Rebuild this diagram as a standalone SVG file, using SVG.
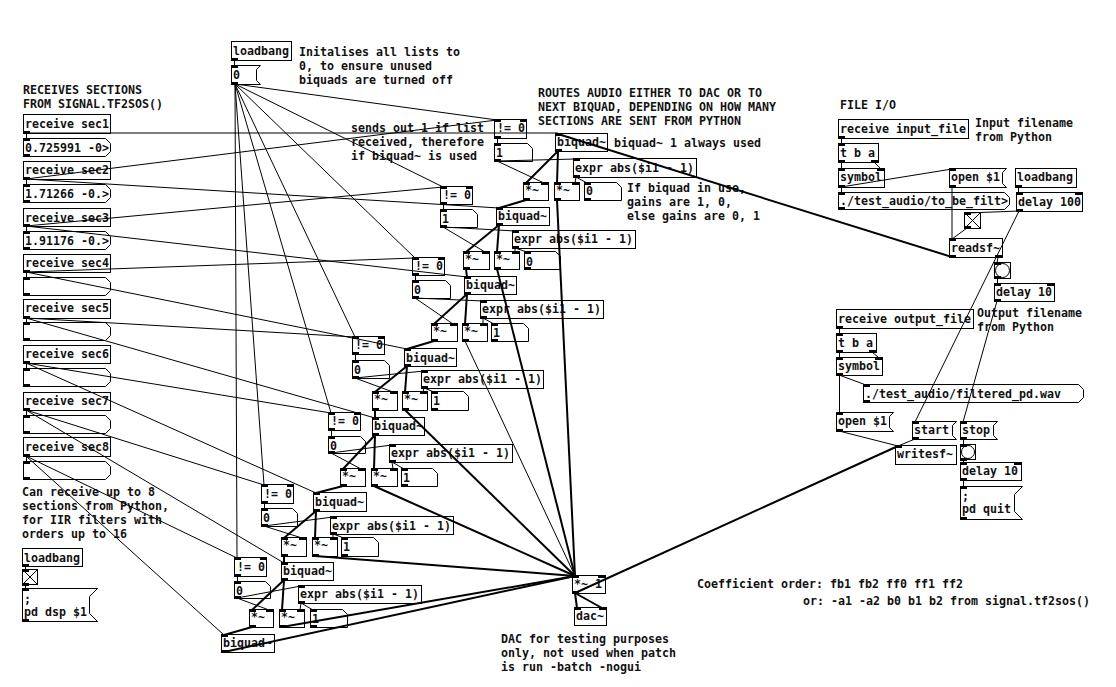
<svg xmlns="http://www.w3.org/2000/svg" width="1116" height="687" viewBox="0 0 1116 687">
<style>
text{font-family:"DejaVu Sans Mono","Liberation Mono",monospace;font-size:11.63px;font-weight:700;fill:#111;white-space:pre}
rect.b,polygon{fill:#fff;stroke:#000;stroke-width:1}
#wires line{stroke:#000;stroke-width:1}
#wires line.s{stroke-width:2}
</style>
<defs><rect id="p" width="7" height="3" fill="#000"/></defs>
<rect width="1116" height="687" fill="#fff"/>
<g id="comments">
<text x="299" y="56">Initalises all lists to</text><text x="299" y="70">0, to ensure unused</text><text x="299" y="84">biquads are turned off</text>
<text x="23" y="94">RECEIVES SECTIONS</text><text x="23" y="108">FROM SIGNAL.TF2SOS()</text>
<text x="538" y="97">ROUTES AUDIO EITHER TO DAC OR TO</text><text x="538" y="111">NEXT BIQUAD, DEPENDING ON HOW MANY</text><text x="538" y="125">SECTIONS ARE SENT FROM PYTHON</text>
<text x="351" y="132">sends out 1 if list</text><text x="351" y="146">received, therefore</text><text x="351" y="160">if biquad~ is used</text>
<text x="614" y="147">biquad~ 1 always used</text>
<text x="627" y="192">If biquad in use,</text><text x="627" y="206">gains are 1, 0,</text><text x="627" y="220">else gains are 0, 1</text>
<text x="840" y="109">FILE I/O</text>
<text x="975" y="127">Input filename</text><text x="975" y="141">from Python</text>
<text x="977" y="317">Output filename</text><text x="977" y="331">from Python</text>
<text x="22" y="496">Can receive up to 8</text><text x="22" y="510">sections from Python,</text><text x="22" y="524">for IIR filters with</text><text x="22" y="538">orders up to 16</text>
<text x="501" y="643">DAC for testing purposes</text><text x="501" y="657">only, not used when patch</text><text x="501" y="671">is run -batch -nogui</text>
<text x="697" y="588">Coefficient order: fb1 fb2 ff0 ff1 ff2</text>
<text x="803" y="605">or: -a1 -a2 b0 b1 b2 from signal.tf2sos()</text>
</g>
<g id="lb1"><rect class="b" x="231.5" y="41.5" width="60" height="19"/><text x="233" y="55">loadbang</text><use href="#p" x="231" y="58"/></g>
<g id="m0"><polygon points="231.5,65.5 260.5,65.5 256.5,69.5 256.5,80.5 260.5,84.5 231.5,84.5"/><text x="233" y="79">0</text><use href="#p" x="231" y="65"/><use href="#p" x="231" y="82"/></g>

<g id="rs1"><rect class="b" x="23.5" y="114.5" width="87" height="19"/><text x="25" y="128">receive sec1</text><use href="#p" x="23" y="131"/></g>
<g id="sy1"><polygon points="23.5,138.5 105.5,138.5 110.5,143.5 110.5,151.5 105.5,156.5 23.5,156.5"/><text x="25" y="152">0.725991 -0&gt;</text><use href="#p" x="23" y="138"/><use href="#p" x="23" y="154"/></g>
<g id="rs2"><rect class="b" x="23.5" y="161.5" width="87" height="18"/><text x="25" y="174">receive sec2</text><use href="#p" x="23" y="177"/></g>
<g id="sy2"><polygon points="23.5,184.5 105.5,184.5 110.5,189.5 110.5,197.5 105.5,202.5 23.5,202.5"/><text x="25" y="198">1.71266 -0.&gt;</text><use href="#p" x="23" y="184"/><use href="#p" x="23" y="200"/></g>
<g id="rs3"><rect class="b" x="23.5" y="208.5" width="87" height="18"/><text x="25" y="222">receive sec3</text><use href="#p" x="23" y="224"/></g>
<g id="sy3"><polygon points="23.5,231.5 105.5,231.5 110.5,236.5 110.5,244.5 105.5,249.5 23.5,249.5"/><text x="25" y="245">1.91176 -0.&gt;</text><use href="#p" x="23" y="231"/><use href="#p" x="23" y="247"/></g>
<g id="rs4"><rect class="b" x="23.5" y="254.5" width="87" height="18"/><text x="25" y="267">receive sec4</text><use href="#p" x="23" y="270"/></g>
<g id="sy4"><polygon points="23.5,277.5 105.5,277.5 110.5,282.5 110.5,290.5 105.5,295.5 23.5,295.5"/><use href="#p" x="23" y="277"/><use href="#p" x="23" y="293"/></g>
<g id="rs5"><rect class="b" x="23.5" y="299.5" width="87" height="19"/><text x="25" y="312">receive sec5</text><use href="#p" x="23" y="316"/></g>
<g id="sy5"><polygon points="23.5,322.5 105.5,322.5 110.5,327.5 110.5,335.5 105.5,340.5 23.5,340.5"/><use href="#p" x="23" y="322"/><use href="#p" x="23" y="338"/></g>
<g id="rs6"><rect class="b" x="23.5" y="345.5" width="87" height="18"/><text x="25" y="358">receive sec6</text><use href="#p" x="23" y="361"/></g>
<g id="sy6"><polygon points="23.5,368.5 105.5,368.5 110.5,373.5 110.5,381.5 105.5,386.5 23.5,386.5"/><use href="#p" x="23" y="368"/><use href="#p" x="23" y="384"/></g>
<g id="rs7"><rect class="b" x="23.5" y="392.5" width="87" height="18"/><text x="25" y="405">receive sec7</text><use href="#p" x="23" y="408"/></g>
<g id="sy7"><polygon points="23.5,415.5 105.5,415.5 110.5,420.5 110.5,428.5 105.5,433.5 23.5,433.5"/><use href="#p" x="23" y="415"/><use href="#p" x="23" y="431"/></g>
<g id="rs8"><rect class="b" x="23.5" y="437.5" width="87" height="19"/><text x="25" y="451">receive sec8</text><use href="#p" x="23" y="454"/></g>
<g id="sy8"><polygon points="23.5,461.5 105.5,461.5 110.5,466.5 110.5,474.5 105.5,479.5 23.5,479.5"/><use href="#p" x="23" y="461"/><use href="#p" x="23" y="477"/></g>

<g id="lb2"><rect class="b" x="22.5" y="548.5" width="60" height="18"/><text x="24" y="562">loadbang</text><use href="#p" x="22" y="564"/></g>
<g id="tg1"><rect class="b" x="22.5" y="569.5" width="15" height="15"/><path d="M23 570L37 584M37 570L23 584" stroke="#000" fill="none"/><use href="#p" x="22" y="569"/><use href="#p" x="22" y="583"/></g>
<g id="dsp"><polygon points="22.5,588.5 97.5,588.5 89.5,596.5 89.5,613.5 97.5,621.5 22.5,621.5"/><text x="24" y="603">;</text><text x="24" y="616">pd dsp $1</text><use href="#p" x="22" y="588"/><use href="#p" x="22" y="619"/></g>

<g id="ne1"><rect class="b" x="494.5" y="119.5" width="32" height="19"/><text x="497" y="132">!= 0</text><use href="#p" x="494" y="119"/><use href="#p" x="520" y="119"/><use href="#p" x="494" y="136"/></g>
<g id="n1"><polygon points="494.5,143.5 527.5,143.5 532.5,148.5 532.5,161.5 494.5,161.5"/><text x="496" y="157">1</text><use href="#p" x="494" y="143"/><use href="#p" x="494" y="159"/></g>
<g id="bq1"><rect class="b" x="555.5" y="133.5" width="52" height="18"/><text x="557" y="146">biquad~</text><use href="#p" x="555" y="133"/><use href="#p" x="555" y="149"/></g>
<g id="ex1"><rect class="b" x="573.5" y="158.5" width="123" height="19"/><text x="575" y="172">expr abs($i1 - 1)</text><use href="#p" x="573" y="158"/><use href="#p" x="573" y="175"/></g>
<g id="ma1"><rect class="b" x="523.5" y="182.5" width="25" height="18"/><text x="525" y="194">*~</text><use href="#p" x="523" y="182"/><use href="#p" x="541" y="182"/><use href="#p" x="523" y="198"/></g>
<g id="mb1"><rect class="b" x="554.5" y="182.5" width="25" height="18"/><text x="556" y="194">*~</text><use href="#p" x="554" y="182"/><use href="#p" x="572" y="182"/><use href="#p" x="554" y="198"/></g>
<g id="g1"><polygon points="584.5,182.5 616.5,182.5 621.5,187.5 621.5,200.5 584.5,200.5"/><text x="586" y="195">0</text><use href="#p" x="584" y="182"/><use href="#p" x="584" y="198"/></g>

<g id="ne2"><rect class="b" x="440.5" y="186.5" width="32" height="18"/><text x="443" y="199">!= 0</text><use href="#p" x="440" y="186"/><use href="#p" x="466" y="186"/><use href="#p" x="440" y="202"/></g>
<g id="n2"><polygon points="440.5,209.5 472.5,209.5 477.5,214.5 477.5,227.5 440.5,227.5"/><text x="442" y="223">1</text><use href="#p" x="440" y="209"/><use href="#p" x="440" y="225"/></g>
<g id="bq2"><rect class="b" x="496.5" y="207.5" width="53" height="18"/><text x="498" y="220">biquad~</text><use href="#p" x="496" y="207"/><use href="#p" x="496" y="223"/></g>
<g id="ex2"><rect class="b" x="512.5" y="230.5" width="123" height="18"/><text x="514" y="243">expr abs($i1 - 1)</text><use href="#p" x="512" y="230"/><use href="#p" x="512" y="246"/></g>
<g id="ma2"><rect class="b" x="463.5" y="251.5" width="26" height="18"/><text x="465" y="263">*~</text><use href="#p" x="463" y="251"/><use href="#p" x="482" y="251"/><use href="#p" x="463" y="267"/></g>
<g id="mb2"><rect class="b" x="494.5" y="251.5" width="25" height="18"/><text x="496" y="263">*~</text><use href="#p" x="494" y="251"/><use href="#p" x="512" y="251"/><use href="#p" x="494" y="267"/></g>
<g id="g2"><polygon points="524.5,251.5 555.5,251.5 560.5,256.5 560.5,269.5 524.5,269.5"/><text x="526" y="266">0</text><use href="#p" x="524" y="251"/><use href="#p" x="524" y="267"/></g>

<g id="ne3"><rect class="b" x="412.5" y="257.5" width="32" height="18"/><text x="415" y="270">!= 0</text><use href="#p" x="412" y="257"/><use href="#p" x="438" y="257"/><use href="#p" x="412" y="273"/></g>
<g id="n3"><polygon points="412.5,280.5 445.5,280.5 450.5,285.5 450.5,298.5 412.5,298.5"/><text x="414" y="294">0</text><use href="#p" x="412" y="280"/><use href="#p" x="412" y="296"/></g>
<g id="bq3"><rect class="b" x="464.5" y="276.5" width="52" height="18"/><text x="466" y="289">biquad~</text><use href="#p" x="464" y="276"/><use href="#p" x="464" y="292"/></g>
<g id="ex3"><rect class="b" x="480.5" y="300.5" width="123" height="18"/><text x="482" y="313">expr abs($i1 - 1)</text><use href="#p" x="480" y="300"/><use href="#p" x="480" y="316"/></g>
<g id="ma3"><rect class="b" x="431.5" y="323.5" width="26" height="18"/><text x="433" y="335">*~</text><use href="#p" x="431" y="323"/><use href="#p" x="450" y="323"/><use href="#p" x="431" y="339"/></g>
<g id="mb3"><rect class="b" x="462.5" y="323.5" width="25" height="18"/><text x="464" y="335">*~</text><use href="#p" x="462" y="323"/><use href="#p" x="480" y="323"/><use href="#p" x="462" y="339"/></g>
<g id="g3"><polygon points="491.5,323.5 523.5,323.5 528.5,328.5 528.5,341.5 491.5,341.5"/><text x="493" y="337">1</text><use href="#p" x="491" y="323"/><use href="#p" x="491" y="339"/></g>

<g id="ne4"><rect class="b" x="352.5" y="336.5" width="32" height="18"/><text x="355" y="349">!= 0</text><use href="#p" x="352" y="336"/><use href="#p" x="378" y="336"/><use href="#p" x="352" y="352"/></g>
<g id="n4"><polygon points="352.5,360.5 384.5,360.5 389.5,365.5 389.5,378.5 352.5,378.5"/><text x="354" y="374">0</text><use href="#p" x="352" y="360"/><use href="#p" x="352" y="376"/></g>
<g id="bq4"><rect class="b" x="404.5" y="348.5" width="52" height="18"/><text x="406" y="362">biquad~</text><use href="#p" x="404" y="348"/><use href="#p" x="404" y="364"/></g>
<g id="ex4"><rect class="b" x="421.5" y="370.5" width="122" height="18"/><text x="423" y="383">expr abs($i1 - 1)</text><use href="#p" x="421" y="370"/><use href="#p" x="421" y="386"/></g>
<g id="ma4"><rect class="b" x="372.5" y="391.5" width="25" height="19"/><text x="374" y="403">*~</text><use href="#p" x="372" y="391"/><use href="#p" x="390" y="391"/><use href="#p" x="372" y="408"/></g>
<g id="mb4"><rect class="b" x="402.5" y="391.5" width="25" height="19"/><text x="404" y="403">*~</text><use href="#p" x="402" y="391"/><use href="#p" x="420" y="391"/><use href="#p" x="402" y="408"/></g>
<g id="g4"><polygon points="431.5,391.5 463.5,391.5 468.5,396.5 468.5,410.5 431.5,410.5"/><text x="433" y="405">1</text><use href="#p" x="431" y="391"/><use href="#p" x="431" y="408"/></g>

<g id="ne5"><rect class="b" x="328.5" y="412.5" width="32" height="18"/><text x="331" y="425">!= 0</text><use href="#p" x="328" y="412"/><use href="#p" x="354" y="412"/><use href="#p" x="328" y="428"/></g>
<g id="n5"><polygon points="328.5,436.5 360.5,436.5 365.5,441.5 365.5,453.5 328.5,453.5"/><text x="330" y="450">0</text><use href="#p" x="328" y="436"/><use href="#p" x="328" y="451"/></g>
<g id="bq5"><rect class="b" x="372.5" y="417.5" width="52" height="18"/><text x="374" y="430">biquad~</text><use href="#p" x="372" y="417"/><use href="#p" x="372" y="433"/></g>
<g id="ex5"><rect class="b" x="389.5" y="444.5" width="123" height="18"/><text x="391" y="457">expr abs($i1 - 1)</text><use href="#p" x="389" y="444"/><use href="#p" x="389" y="460"/></g>
<g id="ma5"><rect class="b" x="340.5" y="468.5" width="25" height="18"/><text x="342" y="480">*~</text><use href="#p" x="340" y="468"/><use href="#p" x="358" y="468"/><use href="#p" x="340" y="484"/></g>
<g id="mb5"><rect class="b" x="371.5" y="468.5" width="26" height="18"/><text x="373" y="480">*~</text><use href="#p" x="371" y="468"/><use href="#p" x="390" y="468"/><use href="#p" x="371" y="484"/></g>
<g id="g5"><polygon points="401.5,468.5 432.5,468.5 437.5,473.5 437.5,486.5 401.5,486.5"/><text x="403" y="482">1</text><use href="#p" x="401" y="468"/><use href="#p" x="401" y="484"/></g>

<g id="ne6"><rect class="b" x="261.5" y="484.5" width="32" height="19"/><text x="264" y="498">!= 0</text><use href="#p" x="261" y="484"/><use href="#p" x="287" y="484"/><use href="#p" x="261" y="501"/></g>
<g id="n6"><polygon points="261.5,508.5 292.5,508.5 297.5,513.5 297.5,526.5 261.5,526.5"/><text x="263" y="522">0</text><use href="#p" x="261" y="508"/><use href="#p" x="261" y="524"/></g>
<g id="bq6"><rect class="b" x="313.5" y="492.5" width="53" height="19"/><text x="315" y="506">biquad~</text><use href="#p" x="313" y="492"/><use href="#p" x="313" y="509"/></g>
<g id="ex6"><rect class="b" x="330.5" y="516.5" width="123" height="18"/><text x="332" y="530">expr abs($i1 - 1)</text><use href="#p" x="330" y="516"/><use href="#p" x="330" y="532"/></g>
<g id="ma6"><rect class="b" x="281.5" y="537.5" width="25" height="19"/><text x="283" y="549">*~</text><use href="#p" x="281" y="537"/><use href="#p" x="299" y="537"/><use href="#p" x="281" y="554"/></g>
<g id="mb6"><rect class="b" x="312.5" y="537.5" width="25" height="19"/><text x="314" y="549">*~</text><use href="#p" x="312" y="537"/><use href="#p" x="330" y="537"/><use href="#p" x="312" y="554"/></g>
<g id="g6"><polygon points="341.5,537.5 373.5,537.5 378.5,542.5 378.5,556.5 341.5,556.5"/><text x="343" y="551">1</text><use href="#p" x="341" y="537"/><use href="#p" x="341" y="554"/></g>

<g id="ne7"><rect class="b" x="234.5" y="557.5" width="32" height="19"/><text x="237" y="571">!= 0</text><use href="#p" x="234" y="557"/><use href="#p" x="260" y="557"/><use href="#p" x="234" y="574"/></g>
<g id="n7"><polygon points="234.5,581.5 265.5,581.5 270.5,586.5 270.5,598.5 234.5,598.5"/><text x="236" y="595">0</text><use href="#p" x="234" y="581"/><use href="#p" x="234" y="596"/></g>
<g id="bq7"><rect class="b" x="281.5" y="562.5" width="52" height="18"/><text x="283" y="575">biquad~</text><use href="#p" x="281" y="562"/><use href="#p" x="281" y="578"/></g>
<g id="ex7"><rect class="b" x="298.5" y="585.5" width="123" height="18"/><text x="300" y="598">expr abs($i1 - 1)</text><use href="#p" x="298" y="585"/><use href="#p" x="298" y="601"/></g>
<g id="ma7"><rect class="b" x="249.5" y="609.5" width="24" height="18"/><text x="251" y="621">*~</text><use href="#p" x="249" y="609"/><use href="#p" x="266" y="609"/><use href="#p" x="249" y="625"/></g>
<g id="mb7"><rect class="b" x="279.5" y="609.5" width="25" height="18"/><text x="281" y="621">*~</text><use href="#p" x="279" y="609"/><use href="#p" x="297" y="609"/><use href="#p" x="279" y="625"/></g>
<g id="g7"><polygon points="310.5,609.5 342.5,609.5 347.5,614.5 347.5,627.5 310.5,627.5"/><text x="312" y="623">1</text><use href="#p" x="310" y="609"/><use href="#p" x="310" y="625"/></g>

<g id="bq8"><rect class="b" x="221.5" y="634.5" width="53" height="18"/><text x="223" y="647">biquad~</text><use href="#p" x="221" y="634"/><use href="#p" x="221" y="650"/></g>

<g id="gain"><rect class="b" x="572.5" y="575.5" width="33" height="18"/><text x="574" y="588">*~ 1</text><use href="#p" x="572" y="575"/><use href="#p" x="598" y="575"/><use href="#p" x="572" y="591"/></g>
<g id="dac"><rect class="b" x="574.5" y="607.5" width="32" height="18"/><text x="576" y="620">dac~</text><use href="#p" x="574" y="607"/><use href="#p" x="599" y="607"/></g>

<g id="rif"><rect class="b" x="838.5" y="119.5" width="130" height="19"/><text x="840" y="133">receive input_file</text><use href="#p" x="838" y="136"/></g>
<g id="tba1"><rect class="b" x="838.5" y="143.5" width="40" height="19"/><text x="840" y="157">t b a</text><use href="#p" x="838" y="143"/><use href="#p" x="838" y="160"/><use href="#p" x="871" y="160"/></g>
<g id="sym1"><rect class="b" x="838.5" y="168.5" width="46" height="19"/><text x="840" y="181">symbol</text><use href="#p" x="838" y="168"/><use href="#p" x="877" y="168"/><use href="#p" x="838" y="185"/></g>
<g id="open1"><polygon points="949.5,168.5 1006.5,168.5 1002.5,172.5 1002.5,183.5 1006.5,187.5 949.5,187.5"/><text x="951" y="181">open $1</text><use href="#p" x="949" y="168"/><use href="#p" x="949" y="185"/></g>
<g id="lb3"><rect class="b" x="1015.5" y="168.5" width="61" height="19"/><text x="1017" y="181">loadbang</text><use href="#p" x="1015" y="185"/></g>
<g id="inf"><polygon points="838.5,192.5 1004.5,192.5 1009.5,197.5 1009.5,204.5 1004.5,209.5 838.5,209.5"/><text x="840" y="205">./test_audio/to_be_filt&gt;</text><use href="#p" x="838" y="192"/><use href="#p" x="838" y="207"/></g>
<g id="d100"><rect class="b" x="1016.5" y="192.5" width="66" height="19"/><text x="1018" y="206">delay 100</text><use href="#p" x="1016" y="192"/><use href="#p" x="1075" y="192"/><use href="#p" x="1016" y="209"/></g>
<g id="tg2"><rect class="b" x="964.5" y="212.5" width="16" height="16"/><path d="M965 213L980 228M980 213L965 228" stroke="#000" fill="none"/><use href="#p" x="964" y="212"/><use href="#p" x="964" y="226"/></g>
<g id="rsf"><rect class="b" x="949.5" y="238.5" width="53" height="19"/><text x="951" y="252">readsf~</text><use href="#p" x="949" y="238"/><use href="#p" x="949" y="255"/><use href="#p" x="995" y="255"/></g>
<g id="bg1"><rect class="b" x="994.5" y="262.5" width="16" height="16"/><circle cx="1002.5" cy="270.5" r="7" fill="#fff" stroke="#000"/><use href="#p" x="994" y="262"/><use href="#p" x="994" y="276"/></g>
<g id="d101"><rect class="b" x="994.5" y="283.5" width="60" height="18"/><text x="996" y="296">delay 10</text><use href="#p" x="994" y="283"/><use href="#p" x="1047" y="283"/><use href="#p" x="994" y="299"/></g>

<g id="rof"><rect class="b" x="836.5" y="309.5" width="137" height="19"/><text x="838" y="323">receive output_file</text><use href="#p" x="836" y="326"/></g>
<g id="tba2"><rect class="b" x="836.5" y="333.5" width="40" height="19"/><text x="838" y="347">t b a</text><use href="#p" x="836" y="333"/><use href="#p" x="836" y="350"/><use href="#p" x="869" y="350"/></g>
<g id="sym2"><rect class="b" x="836.5" y="357.5" width="46" height="18"/><text x="838" y="370">symbol</text><use href="#p" x="836" y="357"/><use href="#p" x="875" y="357"/><use href="#p" x="836" y="373"/></g>
<g id="outf"><polygon points="863.5,384.5 1078.5,384.5 1083.5,389.5 1083.5,397.5 1078.5,402.5 863.5,402.5"/><text x="865" y="398">./test_audio/filtered_pd.wav</text><use href="#p" x="863" y="384"/><use href="#p" x="863" y="400"/></g>
<g id="open2"><polygon points="836.5,412.5 893.5,412.5 889.5,416.5 889.5,427.5 893.5,431.5 836.5,431.5"/><text x="838" y="425">open $1</text><use href="#p" x="836" y="412"/><use href="#p" x="836" y="429"/></g>
<g id="start"><polygon points="912.5,421.5 956.5,421.5 952.5,425.5 952.5,435.5 956.5,439.5 912.5,439.5"/><text x="914" y="434">start</text><use href="#p" x="912" y="421"/><use href="#p" x="912" y="437"/></g>
<g id="stop"><polygon points="960.5,421.5 997.5,421.5 993.5,425.5 993.5,435.5 997.5,439.5 960.5,439.5"/><text x="962" y="434">stop</text><use href="#p" x="960" y="421"/><use href="#p" x="960" y="437"/></g>
<g id="bg2"><rect class="b" x="960.5" y="444.5" width="15" height="15"/><circle cx="968" cy="452" r="6.5" fill="#fff" stroke="#000"/><use href="#p" x="960" y="444"/><use href="#p" x="960" y="458"/></g>
<g id="wsf"><rect class="b" x="895.5" y="445.5" width="61" height="19"/><text x="897" y="458">writesf~</text><use href="#p" x="895" y="445"/></g>
<g id="d102"><rect class="b" x="960.5" y="462.5" width="61" height="18"/><text x="962" y="475">delay 10</text><use href="#p" x="960" y="462"/><use href="#p" x="1014" y="462"/><use href="#p" x="960" y="478"/></g>
<g id="quit"><polygon points="960.5,486.5 1022.5,486.5 1014.5,494.5 1014.5,511.5 1022.5,519.5 960.5,519.5"/><text x="962" y="500">;</text><text x="962" y="513">pd quit</text><use href="#p" x="960" y="486"/><use href="#p" x="960" y="517"/></g>

<g id="wires">
<line x1="234.5" y1="60" x2="234.5" y2="65"/>
<line x1="235" y1="84" x2="497" y2="120"/>
<line x1="235" y1="84" x2="443" y2="187"/>
<line x1="235" y1="84" x2="415" y2="258"/>
<line x1="235" y1="84" x2="355" y2="337"/>
<line x1="235" y1="84" x2="331" y2="413"/>
<line x1="235" y1="84" x2="264" y2="485"/>
<line x1="235" y1="84" x2="237" y2="558"/>
<line x1="26.5" y1="133" x2="26.5" y2="138"/>
<line x1="26.5" y1="179" x2="26.5" y2="184"/>
<line x1="26.5" y1="226" x2="26.5" y2="231"/>
<line x1="26.5" y1="272" x2="26.5" y2="277"/>
<line x1="26.5" y1="318" x2="26.5" y2="322"/>
<line x1="26.5" y1="363" x2="26.5" y2="368"/>
<line x1="26.5" y1="410" x2="26.5" y2="415"/>
<line x1="26.5" y1="456" x2="26.5" y2="461"/>
<line x1="26" y1="133" x2="558" y2="133"/>
<line x1="26" y1="179" x2="497" y2="120"/>
<line x1="26" y1="179" x2="499" y2="208"/>
<line x1="26" y1="226" x2="443" y2="187"/>
<line x1="26" y1="226" x2="467" y2="277"/>
<line x1="26" y1="272" x2="415" y2="258"/>
<line x1="26" y1="272" x2="407" y2="349"/>
<line x1="26" y1="318" x2="355" y2="337"/>
<line x1="26" y1="318" x2="375" y2="418"/>
<line x1="26" y1="363" x2="331" y2="413"/>
<line x1="26" y1="363" x2="316" y2="493"/>
<line x1="26" y1="410" x2="264" y2="485"/>
<line x1="26" y1="410" x2="284" y2="563"/>
<line x1="26" y1="456" x2="237" y2="558"/>
<line x1="26" y1="456" x2="224" y2="635"/>
<line x1="25.5" y1="566" x2="25.5" y2="569"/>
<line x1="25.5" y1="585" x2="25.5" y2="588"/>

<line x1="497.5" y1="138" x2="497.5" y2="143"/>
<line x1="497" y1="161" x2="544" y2="183"/>
<line x1="497" y1="161" x2="576" y2="159"/>
<line x1="576" y1="177" x2="575" y2="183"/>
<line x1="576" y1="177" x2="587" y2="183"/>
<line class="s" x1="558" y1="151" x2="526" y2="183"/>
<line class="s" x1="558" y1="151" x2="557" y2="183"/>
<line class="s" x1="526" y1="200" x2="499" y2="208"/>
<line class="s" x1="557" y1="200" x2="575" y2="576"/>

<line x1="443.5" y1="204" x2="443.5" y2="209"/>
<line x1="443" y1="227" x2="485" y2="252"/>
<line x1="443" y1="227" x2="515" y2="231"/>
<line x1="515" y1="248" x2="515" y2="252"/>
<line x1="515" y1="248" x2="527" y2="252"/>
<line class="s" x1="499" y1="225" x2="466" y2="252"/>
<line class="s" x1="499" y1="225" x2="497" y2="252"/>
<line class="s" x1="466" y1="269" x2="467" y2="277"/>
<line class="s" x1="497" y1="269" x2="575" y2="576"/>

<line x1="415.5" y1="275" x2="415.5" y2="280"/>
<line x1="415" y1="298" x2="453" y2="324"/>
<line x1="415" y1="298" x2="483" y2="301"/>
<line x1="483" y1="318" x2="483" y2="324"/>
<line x1="483" y1="318" x2="494" y2="324"/>
<line class="s" x1="467" y1="294" x2="434" y2="324"/>
<line class="s" x1="467" y1="294" x2="465" y2="324"/>
<line class="s" x1="434" y1="341" x2="407" y2="349"/>
<line x1="465" y1="341" x2="575" y2="576"/>

<line x1="355.5" y1="354" x2="355.5" y2="360"/>
<line x1="355" y1="378" x2="393" y2="392"/>
<line x1="355" y1="378" x2="424" y2="371"/>
<line x1="424" y1="388" x2="423" y2="392"/>
<line x1="424" y1="388" x2="434" y2="392"/>
<line class="s" x1="407" y1="366" x2="375" y2="392"/>
<line class="s" x1="407" y1="366" x2="405" y2="392"/>
<line class="s" x1="375" y1="410" x2="375" y2="418"/>
<line class="s" x1="405" y1="410" x2="575" y2="576"/>

<line x1="331.5" y1="430" x2="331.5" y2="436"/>
<line x1="331" y1="453" x2="361" y2="469"/>
<line x1="331" y1="453" x2="392" y2="445"/>
<line x1="392" y1="462" x2="393" y2="469"/>
<line x1="392" y1="462" x2="404" y2="469"/>
<line class="s" x1="375" y1="435" x2="343" y2="469"/>
<line class="s" x1="375" y1="435" x2="374" y2="469"/>
<line class="s" x1="343" y1="486" x2="316" y2="493"/>
<line class="s" x1="374" y1="486" x2="575" y2="576"/>

<line x1="264.5" y1="503" x2="264.5" y2="508"/>
<line x1="264" y1="526" x2="302" y2="538"/>
<line x1="264" y1="526" x2="333" y2="517"/>
<line x1="333" y1="534" x2="333" y2="538"/>
<line x1="333" y1="534" x2="344" y2="538"/>
<line class="s" x1="316" y1="511" x2="284" y2="538"/>
<line class="s" x1="316" y1="511" x2="315" y2="538"/>
<line class="s" x1="284" y1="556" x2="284" y2="563"/>
<line class="s" x1="315" y1="556" x2="575" y2="576"/>

<line x1="237.5" y1="576" x2="237.5" y2="581"/>
<line x1="237" y1="598" x2="269" y2="610"/>
<line x1="237" y1="598" x2="301" y2="586"/>
<line x1="301" y1="603" x2="300" y2="610"/>
<line x1="301" y1="603" x2="313" y2="610"/>
<line class="s" x1="284" y1="580" x2="252" y2="610"/>
<line class="s" x1="284" y1="580" x2="282" y2="610"/>
<line class="s" x1="252" y1="627" x2="224" y2="635"/>
<line class="s" x1="282" y1="627" x2="575" y2="576"/>
<line class="s" x1="224" y1="652" x2="575" y2="576"/>

<line class="s" x1="575" y1="593" x2="577" y2="608"/>
<line class="s" x1="575" y1="593" x2="602" y2="608"/>
<line class="s" x1="575" y1="593" x2="898" y2="446"/>
<line class="s" x1="952" y1="257" x2="558" y2="134"/>

<line x1="841.5" y1="138" x2="841.5" y2="143"/>
<line x1="841.5" y1="162" x2="841.5" y2="168"/>
<line x1="874" y1="162" x2="880" y2="168"/>
<line x1="841.5" y1="187" x2="841.5" y2="192"/>
<line x1="841" y1="187" x2="952" y2="169"/>
<line x1="952" y1="187" x2="952" y2="239"/>
<line x1="1018.5" y1="187" x2="1018.5" y2="192"/>
<line x1="1019" y1="211" x2="967" y2="213"/>
<line x1="1019" y1="211" x2="915" y2="422"/>
<line x1="967" y1="228" x2="952" y2="239"/>
<line x1="998" y1="257" x2="997" y2="263"/>
<line x1="997.5" y1="278" x2="997.5" y2="283"/>
<line x1="997" y1="301" x2="963" y2="422"/>
<line x1="839.5" y1="328" x2="839.5" y2="333"/>
<line x1="839.5" y1="352" x2="839.5" y2="357"/>
<line x1="872" y1="352" x2="878" y2="357"/>
<line x1="839" y1="375" x2="866" y2="385"/>
<line x1="839.5" y1="375" x2="839.5" y2="412"/>
<line x1="839" y1="431" x2="898" y2="446"/>
<line x1="915" y1="439" x2="898" y2="446"/>
<line x1="963.5" y1="439" x2="963.5" y2="444"/>
<line x1="963.5" y1="459" x2="963.5" y2="462"/>
<line x1="963.5" y1="480" x2="963.5" y2="486"/>
</g>
</svg>
